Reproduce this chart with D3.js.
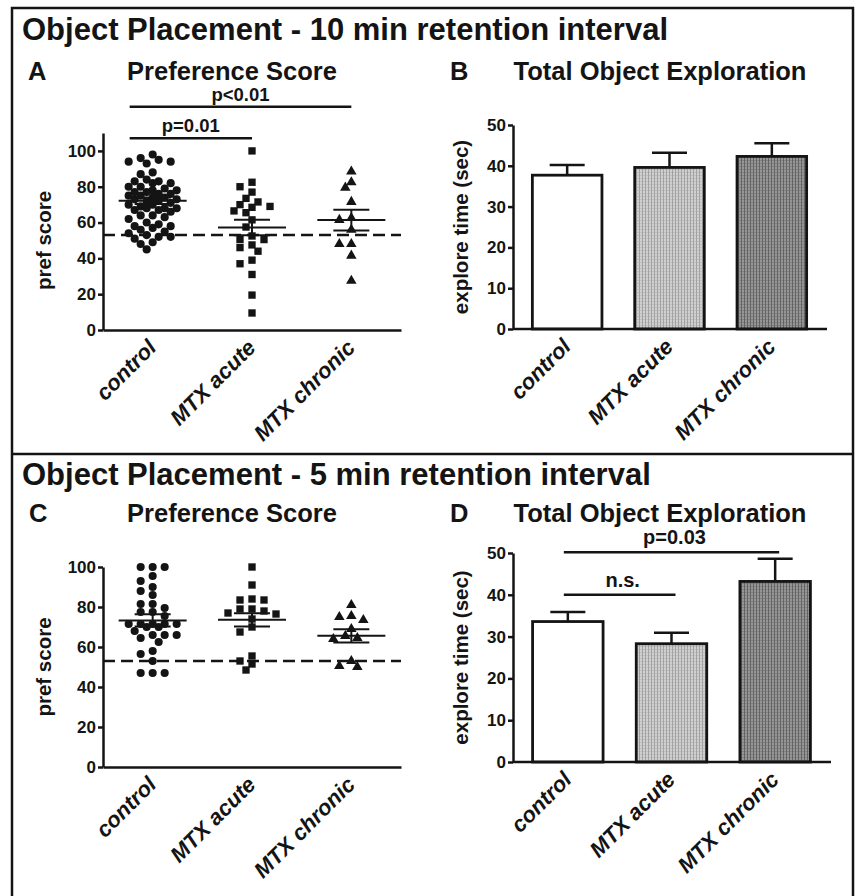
<!DOCTYPE html>
<html>
<head>
<meta charset="utf-8">
<script src="https://cdn.jsdelivr.net/npm/d3@7"></script>
<style>
  body { margin: 0; background: #fff; }
  svg { display: block; }
  text { font-family: "Liberation Sans", Arial, sans-serif; font-weight: bold; fill: #141414; }
</style>
</head>
<body>
<svg id="fig" width="856" height="896"></svg>
<script>
const groups = ["control", "MTX acute", "MTX chronic"];

// panel A - preference score, 10 min
const prefA_control = [98, 96, 95, 94, 94, 93, 88, 87, 84, 83, 83, 82, 82, 80, 80, 79, 78, 78, 77, 77,
  76, 76, 75, 75, 74, 74, 73, 73, 72, 72, 71, 70, 70, 69, 68, 68, 68, 67, 67, 66,
  64, 64, 63, 62, 60, 59, 58, 58, 57, 56, 55, 54, 53, 52, 52, 51, 49, 48, 45];
const prefA_acute = [100, 82.5, 80, 77, 73.5, 71.5, 70, 68.5, 69, 66.5, 65.5, 61.5, 57.5, 52.5,
  50.5, 50.5, 47.5, 44, 46, 39, 37, 31, 19.5, 9.5];
const prefA_chronic = [88.5, 82.5, 79.5, 71.5, 61.5, 62.5, 56, 48, 48, 41.5, 27.5];
const prefA_mean = [72.2, 57.2, 61.4];
const prefA_sem = [1.8, 4.3, 5.8];

// panel C - preference score, 5 min
const prefC_control = [100, 100, 100, 95.5, 93, 90, 88, 86, 81.5, 81.5, 79.5, 77.5, 77.5, 75.5,
  71.5, 71.5, 71.5, 71.5, 71.5, 70, 70, 68, 66, 66, 66, 64.5, 62.5, 58, 56.5, 53, 47, 47, 47];
const prefC_acute = [100, 91, 84, 83.5, 83.5, 79, 79, 78, 77, 76.5, 74, 70, 67.5, 55.5, 53, 51.5, 48.5];
const prefC_chronic = [81, 75.5, 75, 73.5, 69, 64.5, 64, 65.5, 53, 50, 50.5];
const prefC_mean = [73.3, 73.6, 65.6];
const prefC_sem = [3.1, 3.3, 3.3];

// panels B / D - total exploration (sec)
const exploreB_mean = [37.7, 39.6, 42.3];
const exploreB_sem = [2.5, 3.6, 3.2];
const exploreD_mean = [33.6, 28.3, 43.2];
const exploreD_sem = [2.3, 2.6, 5.4];

const chanceLevel = 53;
const prefTicks = [0, 20, 40, 60, 80, 100];
const exploreTicks = [0, 10, 20, 30, 40, 50];

const svg = d3.select("#fig");
const ink = "#141414";

// fill patterns for the bars
const defs = svg.append("defs");
function stipple(id, bg, fg) {
  const p = defs.append("pattern").attr("id", id).attr("patternUnits", "userSpaceOnUse")
    .attr("width", 3).attr("height", 3);
  p.append("rect").attr("width", 3).attr("height", 3).attr("fill", bg);
  p.append("rect").attr("width", 1).attr("height", 3).attr("fill", fg);
  p.append("rect").attr("x", 1).attr("y", 1).attr("width", 2).attr("height", 1).attr("fill", fg).attr("opacity", 0.4);
}
stipple("light", "#d0d0d0", "#a2a2a2");
stipple("dark", "#969696", "#646464");
const barFills = ["#fff", "url(#light)", "url(#dark)"];

// frame
svg.append("rect").attr("x", 12).attr("y", 8).attr("width", 841).attr("height", 900)
  .attr("fill", "none").attr("stroke", ink).attr("stroke-width", 2.5);
svg.append("line").attr("x1", 12).attr("x2", 853).attr("y1", 454).attr("y2", 454)
  .attr("stroke", ink).attr("stroke-width", 2.5);

function header(text, y) {
  svg.append("text").attr("x", 22).attr("y", y).attr("font-size", 31).text(text);
}
header("Object Placement - 10 min retention interval", 40);
header("Object Placement - 5 min retention interval", 485);

function panelTitle(letter, title, lx, tx, y) {
  svg.append("text").attr("x", lx).attr("y", y).attr("font-size", 25.5).text(letter);
  svg.append("text").attr("x", tx).attr("y", y).attr("font-size", 25.5)
    .attr("text-anchor", "middle").text(title);
}
panelTitle("A", "Preference Score", 28, 232, 80);
panelTitle("B", "Total Object Exploration", 450, 660, 80);
panelTitle("C", "Preference Score", 29, 232, 522);
panelTitle("D", "Total Object Exploration", 450, 660, 522);

function styleAxis(g) {
  g.selectAll("path, line").attr("stroke", ink).attr("stroke-width", 2.5);
  g.selectAll("text").attr("font-size", 17).attr("fill", ink);
}

function xLabels(g) {
  g.selectAll("text")
    .attr("font-size", 22).attr("font-style", "italic")
    .attr("y", 0).attr("dy", 0)
    .attr("text-anchor", "end")
    .attr("transform", "translate(5,19) rotate(-45)");
}

function yTitle(text, x, y0, y1) {
  svg.append("text").attr("font-size", 20.5).attr("text-anchor", "middle")
    .attr("transform", `translate(${x},${(y0 + y1) / 2}) rotate(-90)`).text(text);
}

// beeswarm like Prism: nudge points sideways in half-steps, at most maxOff from the centre;
// where the column is crowded, take the slot with the least overlap
function swarm(vals, y, d, s, maxOff) {
  const pts = vals.map((v) => ({ v, y: y(v), dx: 0 })).sort((a, b) => a.y - b.y);
  const placed = [];
  const nSlots = 2 * Math.floor(maxOff / s) + 1;
  for (const p of pts) {
    let best = 0, bestDist = -1;
    for (let k = 0; k < nSlots; k++) {
      const off = k === 0 ? 0 : (k % 2 ? -1 : 1) * Math.ceil(k / 2) * s;
      const dist = placed.length
        ? d3.min(placed, (q) => Math.hypot(q.dx - off, q.y - p.y))
        : Infinity;
      if (dist >= d) { best = off; bestDist = dist; break; }
      if (dist > bestDist + 0.5) { best = off; bestDist = dist; }
    }
    p.dx = best;
    placed.push(p);
  }
  return placed;
}

function scatterPanel(cfg) {
  const x = d3.scaleBand().domain(groups).range([cfg.left, cfg.right]);
  const y = d3.scaleLinear().domain([0, cfg.yMax]).range([cfg.bottom, cfg.top]);
  const g = svg.append("g");

  const ya = g.append("g").attr("transform", `translate(${cfg.left},0)`)
    .call(d3.axisLeft(y).tickValues(prefTicks).tickSize(5).tickSizeOuter(0).tickPadding(2));
  styleAxis(ya);
  const xa = g.append("g").attr("transform", `translate(0,${cfg.bottom})`)
    .call(d3.axisBottom(x).tickSize(0).tickSizeOuter(0));
  styleAxis(xa);
  xLabels(xa);
  yTitle("pref score", cfg.left - 52, cfg.bottom, y(100));

  // chance line
  g.append("line").attr("x1", cfg.left).attr("x2", cfg.right)
    .attr("y1", y(chanceLevel)).attr("y2", y(chanceLevel))
    .attr("stroke", ink).attr("stroke-width", 2.5).attr("stroke-dasharray", "12,6");

  const symbols = [d3.symbolCircle, d3.symbolSquare, d3.symbolTriangle];
  const sizes = [52, 54, 48];
  cfg.data.forEach((vals, i) => {
    const cx = x(groups[i]) + x.bandwidth() / 2;
    const pts = swarm(vals, y, 8, 6, 25);
    g.append("g").selectAll("path").data(pts).join("path")
      .attr("transform", (d) => `translate(${cx + d.dx},${d.y})`)
      .attr("d", d3.symbol(symbols[i], sizes[i]))
      .attr("fill", ink);

    // mean and SEM
    const m = cfg.mean[i], s = cfg.sem[i];
    const lines = [
      [cx - 34, cx + 34, y(m), y(m)],
      [cx - 18, cx + 18, y(m + s), y(m + s)],
      [cx - 18, cx + 18, y(m - s), y(m - s)],
      [cx, cx, y(m + s), y(m - s)]
    ];
    g.append("g").selectAll("line").data(lines).join("line")
      .attr("x1", (d) => d[0]).attr("x2", (d) => d[1]).attr("y1", (d) => d[2]).attr("y2", (d) => d[3])
      .attr("stroke", ink).attr("stroke-width", 2);
  });

  (cfg.sig || []).forEach((b) => {
    const x1 = x(groups[b.from]) + x.bandwidth() / 2 - 23;
    const x2 = x(groups[b.to]) + x.bandwidth() / 2;
    g.append("line").attr("x1", x1).attr("x2", x2).attr("y1", y(b.level)).attr("y2", y(b.level))
      .attr("stroke", ink).attr("stroke-width", 2.5);
    g.append("text").attr("x", (x1 + x2) / 2).attr("y", y(b.level) - 6)
      .attr("text-anchor", "middle").attr("font-size", 18.5).text(b.label);
  });
}

function barPanel(cfg) {
  const x = d3.scaleBand().domain(groups).range([cfg.left + 3, cfg.right])
    .paddingInner(0.32).paddingOuter(0.16);
  const y = d3.scaleLinear().domain([0, 50]).range([cfg.bottom, cfg.top]);
  const g = svg.append("g");

  // error bars (upper only)
  g.append("g").selectAll("line").data(cfg.mean).join("line")
    .attr("x1", (d, i) => x(groups[i]) + x.bandwidth() / 2)
    .attr("x2", (d, i) => x(groups[i]) + x.bandwidth() / 2)
    .attr("y1", (d) => y(d))
    .attr("y2", (d, i) => y(d + cfg.sem[i]))
    .attr("stroke", ink).attr("stroke-width", 2.5);
  g.append("g").selectAll("line").data(cfg.mean).join("line")
    .attr("x1", (d, i) => x(groups[i]) + x.bandwidth() / 2 - 17.5)
    .attr("x2", (d, i) => x(groups[i]) + x.bandwidth() / 2 + 17.5)
    .attr("y1", (d, i) => y(d + cfg.sem[i]))
    .attr("y2", (d, i) => y(d + cfg.sem[i]))
    .attr("stroke", ink).attr("stroke-width", 2.5);

  g.append("g").selectAll("rect").data(cfg.mean).join("rect")
    .attr("x", (d, i) => x(groups[i]))
    .attr("y", (d) => y(d))
    .attr("width", x.bandwidth())
    .attr("height", (d) => y(0) - y(d))
    .attr("fill", (d, i) => barFills[i])
    .attr("stroke", ink).attr("stroke-width", 2.8);

  const ya = g.append("g").attr("transform", `translate(${cfg.left},0)`)
    .call(d3.axisLeft(y).tickValues(exploreTicks).tickSize(5).tickSizeOuter(0).tickPadding(2));
  styleAxis(ya);
  const xa = g.append("g").attr("transform", `translate(0,${cfg.bottom})`)
    .call(d3.axisBottom(x).tickSize(0).tickSizeOuter(0));
  xa.select(".domain").remove();
  xa.append("line").attr("x1", cfg.left).attr("x2", cfg.right + 4);
  styleAxis(xa);
  xLabels(xa);
  yTitle("explore time (sec)", cfg.left - 45, cfg.bottom, cfg.top);

  (cfg.sig || []).forEach((b) => {
    const x1 = x(groups[b.from]) + x.bandwidth() / 2 - 4;
    const x2 = x(groups[b.to]) + x.bandwidth() / 2 + 4;
    g.append("line").attr("x1", x1).attr("x2", x2).attr("y1", y(b.level)).attr("y2", y(b.level))
      .attr("stroke", ink).attr("stroke-width", 2.5);
    g.append("text").attr("x", (x1 + x2) / 2 + 3).attr("y", y(b.level) - 8)
      .attr("text-anchor", "middle").attr("font-size", 20).text(b.label);
  });
}

scatterPanel({
  left: 103, right: 401, top: 133, bottom: 330, yMax: 110,
  data: [prefA_control, prefA_acute, prefA_chronic],
  mean: prefA_mean, sem: prefA_sem,
  sig: [
    { from: 0, to: 1, level: 107, label: "p=0.01" },
    { from: 0, to: 2, level: 124.7, label: "p<0.01" }
  ]
});
scatterPanel({
  left: 103, right: 401, top: 567, bottom: 767, yMax: 100,
  data: [prefC_control, prefC_acute, prefC_chronic],
  mean: prefC_mean, sem: prefC_sem
});
barPanel({
  left: 513, right: 823, top: 125, bottom: 329,
  mean: exploreB_mean, sem: exploreB_sem
});
barPanel({
  left: 513, right: 827, top: 553, bottom: 762,
  mean: exploreD_mean, sem: exploreD_sem,
  sig: [
    { from: 0, to: 1, level: 40, label: "n.s." },
    { from: 0, to: 2, level: 50.2, label: "p=0.03" }
  ]
});
</script>
</body>
</html>
